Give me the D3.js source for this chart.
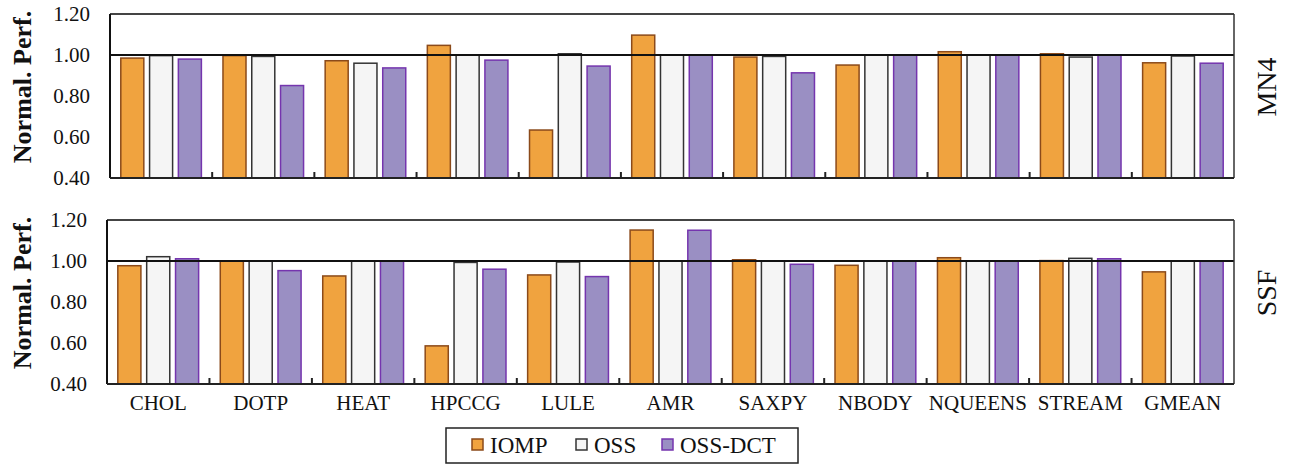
<!DOCTYPE html>
<html><head><meta charset="utf-8">
<script src="https://cdn.jsdelivr.net/npm/d3@7/dist/d3.min.js"></script>
<style>body{margin:0;background:#fff}svg{display:block}</style>
</head><body><svg id="c" width="1291" height="466" font-family="'Liberation Serif', 'DejaVu Serif', serif"></svg>
<script>
const categories = ["CHOL","DOTP","HEAT","HPCCG","LULE","AMR","SAXPY","NBODY","NQUEENS","STREAM","GMEAN"];
const series = ["IOMP","OSS","OSS-DCT"];
const panelNames = ["MN4","SSF"];
const yTicks = [0.40,0.60,0.80,1.00,1.20];
// MN4 values
const mn4IOMP = [0.985,0.997,0.972,1.047,0.634,1.097,0.99,0.951,1.016,1.006,0.962];
const mn4OSS  = [0.997,0.993,0.960,1.000,1.006,1.000,0.993,1.000,1.000,0.990,0.995];
const mn4DCT  = [0.980,0.851,0.937,0.975,0.946,1.000,0.913,1.000,1.000,1.000,0.960];
// SSF values
const ssfIOMP = [0.977,1.000,0.927,0.586,0.932,1.151,1.006,0.979,1.016,1.002,0.947];
const ssfOSS  = [1.021,1.000,1.000,0.993,0.995,1.000,1.000,1.000,1.000,1.013,1.000];
const ssfDCT  = [1.011,0.953,1.000,0.960,0.924,1.150,0.984,1.000,1.000,1.011,1.000];

const fills = {"IOMP":"#F0A33F","OSS":"#F5F5F5","OSS-DCT":"#9A8FC3"};
const strokes = {"IOMP":"#8B4A1A","OSS":"#333333","OSS-DCT":"#7535AE"};
const FONT = "'Liberation Serif', 'DejaVu Serif', serif";

const svg = d3.select("#c");
const panels = [
  {name:panelNames[0], data:[mn4IOMP,mn4OSS,mn4DCT], x0:110, x1:1234, top:14, bottom:178, labels:false},
  {name:panelNames[1], data:[ssfIOMP,ssfOSS,ssfDCT], x0:107, x1:1234, top:220, bottom:384, labels:true}
];

panels.forEach(p => {
  const g = svg.append("g");
  const x = d3.scaleBand().domain(categories).range([p.x0,p.x1]).padding(0);
  const xi = d3.scaleBand().domain(series).range([0,x.bandwidth()]).paddingInner(0.2).paddingOuter(0.375);
  const y = d3.scaleLinear().domain([0.4,1.2]).range([p.bottom,p.top]);

  series.forEach((s,si) => {
    g.selectAll(null).data(categories).enter().append("rect")
      .attr("x", c => x(c)+xi(s))
      .attr("width", xi.bandwidth())
      .attr("y", (c,i) => y(p.data[si][i]))
      .attr("height", (c,i) => y(0.4)-y(p.data[si][i]))
      .attr("fill", fills[s]).attr("stroke", strokes[s]).attr("stroke-width",1.5);
  });

  g.append("line").attr("x1",p.x0).attr("x2",p.x1).attr("y1",y(1)).attr("y2",y(1))
    .attr("stroke","#111").attr("stroke-width",2);

  g.append("line").attr("x1",p.x0).attr("x2",p.x1).attr("y1",y(1.2)).attr("y2",y(1.2)).attr("stroke","#444").attr("stroke-width",2);
  g.append("line").attr("x1",p.x1).attr("x2",p.x1).attr("y1",y(1.2)).attr("y2",y(0.4)).attr("stroke","#333").attr("stroke-width",1.5);
  g.append("line").attr("x1",p.x0).attr("x2",p.x0).attr("y1",y(1.2)).attr("y2",y(0.4)).attr("stroke","#111").attr("stroke-width",2);
  g.append("line").attr("x1",p.x0).attr("x2",p.x1).attr("y1",y(0.4)).attr("y2",y(0.4)).attr("stroke","#222").attr("stroke-width",2);

  categories.slice(1).forEach(c => {
    g.append("line").attr("x1",x(c)).attr("x2",x(c)).attr("y1",y(0.4)).attr("y2",y(0.4)-6)
      .attr("stroke","#222").attr("stroke-width",2);
  });

  g.selectAll(null).data(yTicks).enter().append("text")
    .attr("x", p.x0-20).attr("y", d=>y(d)).attr("dy","0.35em")
    .attr("text-anchor","end").attr("font-family",FONT).attr("font-size",21).attr("fill","#111")
    .text(d=>d.toFixed(2));

  const cy = (p.top+p.bottom)/2 - 9;
  g.append("text").attr("transform",`translate(22,${cy}) rotate(-90)`)
    .attr("text-anchor","middle").attr("dy","0.35em").attr("font-family",FONT)
    .attr("font-size",26).attr("font-weight","bold").attr("fill","#111").text("Normal. Perf.");

  g.append("text").attr("transform",`translate(1266,${cy}) rotate(-90)`)
    .attr("text-anchor","middle").attr("dy","0.35em").attr("font-family",FONT)
    .attr("font-size",28).attr("fill","#111").text(p.name);

  if (p.labels) {
    g.selectAll(null).data(categories).enter().append("text")
      .attr("x", c=>x(c)+x.bandwidth()/2).attr("y", 410)
      .attr("text-anchor","middle").attr("font-family",FONT).attr("font-size",21).attr("fill","#111").text(c=>c);
  }
});

const lg = svg.append("g");
lg.append("rect").attr("x",446).attr("y",428).attr("width",352).attr("height",35)
  .attr("fill","#fff").attr("stroke","#222").attr("stroke-width",1.5);
const legX = [472,576,662];
series.forEach((s,i) => {
  lg.append("rect").attr("x",legX[i]).attr("y",439).attr("width",11).attr("height",11)
    .attr("fill",fills[s]).attr("stroke",strokes[s]).attr("stroke-width",1.5);
  lg.append("text").attr("x",legX[i]+18).attr("y",445).attr("dy","0.35em").attr("font-family",FONT)
    .attr("font-size",23).attr("fill","#111").text(s);
});
</script></body></html>
